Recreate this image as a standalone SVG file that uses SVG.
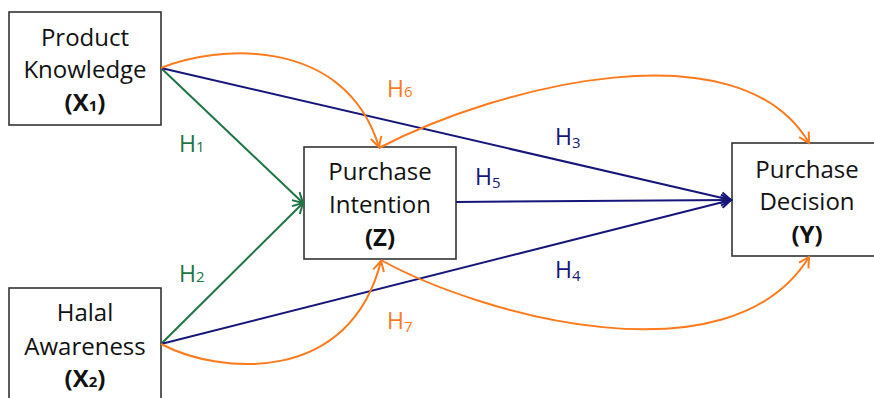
<svg xmlns="http://www.w3.org/2000/svg" width="874" height="398" viewBox="0 0 874 398">
<defs>
<style>
.box{fill:#fff;stroke:#333;stroke-width:1.6}
.t{font-family:"Open Sans","DejaVu Sans",sans-serif;font-size:24px;fill:#111;text-anchor:middle}
.b{font-weight:bold}
.sub{font-size:15px}
.lab{font-family:"Open Sans","DejaVu Sans",sans-serif;font-size:23px}
.c{fill:none;stroke-width:2}
.or{stroke:#FF7A1C}
.gr{stroke:#1E7443}
.bl{stroke:#16167A}
</style>
<marker id="ao" markerUnits="userSpaceOnUse" markerWidth="16" markerHeight="16" viewBox="-12 -8 14 16" refX="0" refY="0" orient="auto"><path d="M-10,-5.5 L0,0 L-10,5.5" fill="none" stroke="#FF7A1C" stroke-width="2"/></marker>
<marker id="ag" markerUnits="userSpaceOnUse" markerWidth="16" markerHeight="16" viewBox="-12 -8 14 16" refX="0" refY="0" orient="auto"><path d="M-10,-5.5 L0,0 L-10,5.5" fill="none" stroke="#1E7443" stroke-width="2"/></marker>
<marker id="ab" markerUnits="userSpaceOnUse" markerWidth="16" markerHeight="16" viewBox="-12 -8 14 16" refX="0" refY="0" orient="auto"><path d="M-10,-5.5 L0,0 L-10,5.5" fill="none" stroke="#16167A" stroke-width="2"/></marker>
</defs>
<rect width="874" height="398" fill="#fff"/>
<g id="node-x1">
<rect class="box" x="9" y="12" width="152" height="113"/>
<text class="t" x="85" y="46">Product</text>
<text class="t" x="85" y="78">Knowledge</text>
<text class="t b" x="85" y="111">(X<tspan class="sub">1</tspan>)</text>
</g>
<g id="node-x2">
<rect class="box" x="9" y="288" width="152" height="120"/>
<text class="t" x="85" y="321">Halal</text>
<text class="t" x="85" y="355">Awareness</text>
<text class="t b" x="85" y="387">(X<tspan class="sub">2</tspan>)</text>
</g>
<g id="node-z">
<rect class="box" x="304" y="147" width="152" height="112"/>
<text class="t" x="380" y="180">Purchase</text>
<text class="t" x="380" y="213">Intention</text>
<text class="t b" x="380" y="246">(Z)</text>
</g>
<g id="node-y">
<rect class="box" x="732" y="143" width="152" height="113"/>
<text class="t" x="807" y="178">Purchase</text>
<text class="t" x="807" y="210">Decision</text>
<text class="t b" x="807" y="243">(Y)</text>
</g>
<g id="connectors">
<path class="c gr" d="M161,68 L303,203" marker-end="url(#ag)"/>
<path class="c gr" d="M161,344 L303,203" marker-end="url(#ag)"/>
<path class="c bl" d="M161,68 L731,200" marker-end="url(#ab)"/>
<path class="c bl" d="M161,344 L731,200" marker-end="url(#ab)"/>
<path class="c bl" d="M456,202 L731,200" marker-end="url(#ab)"/>
<path class="c or" d="M161,68 C215,45 345,35 379,147" marker-end="url(#ao)"/>
<path class="c or" d="M379,148 C500,85 740,25 809,143" marker-end="url(#ao)"/>
<path class="c or" d="M161,344 C220,375 350,385 381,261" marker-end="url(#ao)"/>
<path class="c or" d="M381,260 C480,315 730,385 809,257" marker-end="url(#ao)"/>
</g>
<g id="labels">
<text class="lab" x="179" y="152" fill="#1E7443">H<tspan class="sub">1</tspan></text>
<text class="lab" x="179" y="282" fill="#1E7443">H<tspan class="sub">2</tspan></text>
<text class="lab" x="555" y="145" fill="#16167A">H<tspan class="sub" dy="3">3</tspan></text>
<text class="lab" x="555" y="278" fill="#16167A">H<tspan class="sub" dy="3">4</tspan></text>
<text class="lab" x="475" y="185" fill="#16167A">H<tspan class="sub" dy="3">5</tspan></text>
<text class="lab" x="387" y="97" fill="#FF7A1C">H<tspan class="sub">6</tspan></text>
<text class="lab" x="387" y="329" fill="#FF7A1C">H<tspan class="sub" dy="3">7</tspan></text>
</g>
</svg>
